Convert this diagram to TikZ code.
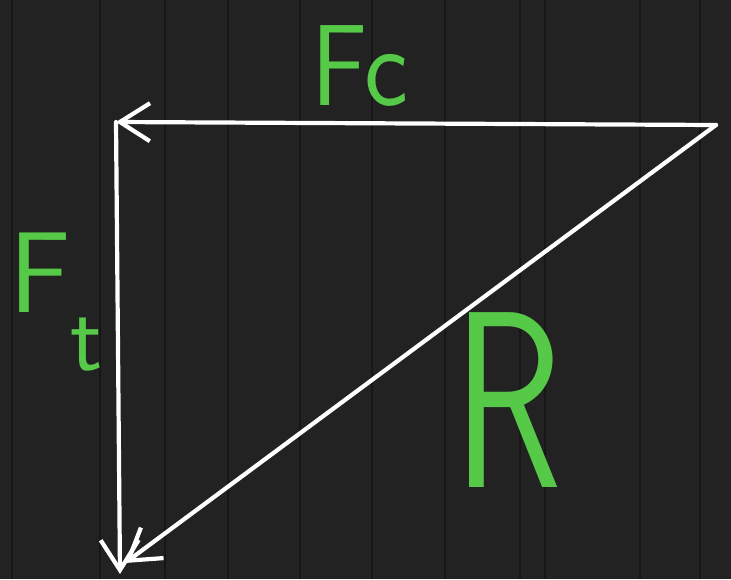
\documentclass[tikz,border=0pt]{standalone}
\usepackage{tikz}
\usetikzlibrary{positioning,arrows.meta,calc}
\definecolor{boardgray}{RGB}{34,34,34}
\definecolor{plankline}{RGB}{22,22,22}
\definecolor{chalkgreen}{RGB}{86,201,72}

\begin{document}
\begin{tikzpicture}[x=1pt, y=-1pt,
    vec/.style={draw=white, line width=4.2pt, line cap=round,
                -{Straight Barb[length=30pt, width=38pt, line width=4.2pt]}},
    lbl/.style={text=chalkgreen, inner sep=0pt}]
  % board
  \fill[boardgray] (0,0) rectangle (731,579);
  \useasboundingbox (0,0) rectangle (731,579);
  \foreach \px in {12,100,165,228,300,372,445,520,545,640,700}
    \draw[plankline, line width=1.4pt] (\px,0) -- (\px,579);

  \coordinate (tail) at (716,125);
  \coordinate (corner) at (116,122);
  \coordinate (bottom) at (120,574);
  \coordinate (rtip) at (125,563);

  \draw[vec] (tail) -- (corner);
  \draw[vec] (corner) -- (bottom);
  \draw[vec] (tail) -- (rtip);

  \node[lbl, font=\fontsize{105}{105}\selectfont\sffamily, yscale=1.1] (fc) at (360,66) {Fc};
  \node[lbl, font=\fontsize{115}{115}\selectfont\sffamily] (ft) at (56,302)
      {F\raisebox{-0.5em}{\fontsize{95}{95}\selectfont t}};
  \node[lbl, font=\fontsize{180}{180}\selectfont\sffamily, yscale=1.4] (rr) at (508,400) {R};
\end{tikzpicture}
\end{document}
